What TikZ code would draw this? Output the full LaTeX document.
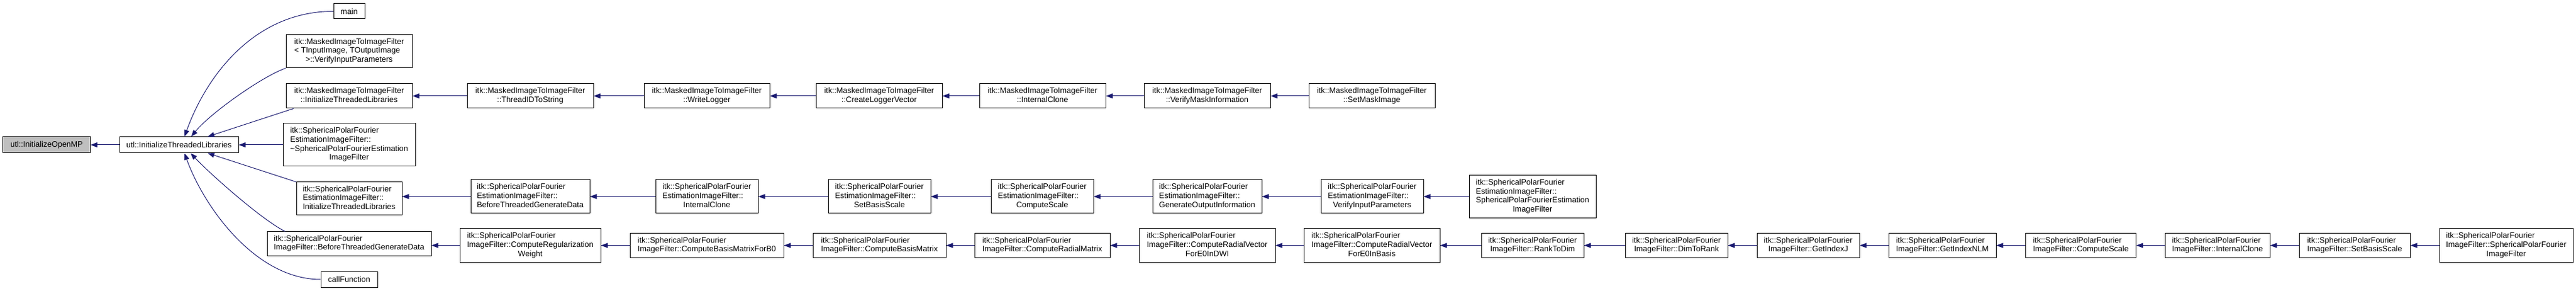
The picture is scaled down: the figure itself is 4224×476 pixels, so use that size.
\documentclass[tikz,border=0pt]{standalone}
\usepackage{fontspec}
\setmainfont{Liberation Sans}
\usetikzlibrary{arrows.meta}
\definecolor{edgeblue}{HTML}{191970}
\definecolor{hlgray}{HTML}{BFBFBF}
\newcommand\dlab[2]{\begin{tabular}{@{}l@{}}#1\\\multicolumn{1}{@{}c@{}}{#2}\end{tabular}}
\begin{document}
\begin{tikzpicture}[x=1bp,y=-1bp,
  box/.style={draw=black, line width=1bp, fill=white, inner sep=0pt, text=black,
    font=\fontsize{13}{14.7}\selectfont},
  edge/.style={draw=edgeblue, line width=1bp, -{Triangle[length=11bp,width=8bp]}}]
\fill[white] (0,0) rectangle (4224,476);
\useasboundingbox (0,0) rectangle (4224,476);
% column 0-1
\node[box, fill=hlgray, minimum width=143bp, minimum height=26bp] (omp) at (76.5,237) {utl::InitializeOpenMP};
\node[box, minimum width=195bp, minimum height=26bp] (utl) at (293.5,237) {utl::InitializeThreadedLibraries};
% column 2
\node[box, minimum width=51bp, minimum height=25bp] (main) at (572.5,18.5) {main};
\node[box, minimum width=207bp, minimum height=54bp] (mvip) at (572.5,84) {\dlab{itk::MaskedImageToImageFilter\\< TInputImage, TOutputImage}{>::VerifyInputParameters}};
\node[box, minimum width=207bp, minimum height=40bp] (mitl) at (572.5,157) {\dlab{itk::MaskedImageToImageFilter}{::InitializeThreadedLibraries}};
\node[box, minimum width=217bp, minimum height=70bp] (sdes) at (572.5,237) {\dlab{itk::SphericalPolarFourier\\EstimationImageFilter::\\\textasciitilde SphericalPolarFourierEstimation}{ImageFilter}};
\node[box, minimum width=173bp, minimum height=54bp] (seitl) at (572.5,325) {\dlab{itk::SphericalPolarFourier\\EstimationImageFilter::}{InitializeThreadedLibraries}};
\node[box, minimum width=269bp, minimum height=39bp] (sibtgd) at (572.5,398.5) {\dlab{itk::SphericalPolarFourier}{ImageFilter::BeforeThreadedGenerateData}};
\node[box, minimum width=93bp, minimum height=26bp] (callf) at (572.5,457) {callFunction};
% masked chain
\node[box, minimum width=207bp, minimum height=40bp] (tid) at (869.5,157) {\dlab{itk::MaskedImageToImageFilter}{::ThreadIDToString}};
\node[box, minimum width=206bp, minimum height=40bp] (wl) at (1159,157) {\dlab{itk::MaskedImageToImageFilter}{::WriteLogger}};
\node[box, minimum width=207bp, minimum height=40bp] (clv) at (1441.5,157) {\dlab{itk::MaskedImageToImageFilter}{::CreateLoggerVector}};
\node[box, minimum width=207bp, minimum height=40bp] (mic) at (1709.5,157) {\dlab{itk::MaskedImageToImageFilter}{::InternalClone}};
\node[box, minimum width=207bp, minimum height=40bp] (vmi) at (1979.5,157) {\dlab{itk::MaskedImageToImageFilter}{::VerifyMaskInformation}};
\node[box, minimum width=207bp, minimum height=40bp] (smi) at (2249.5,157) {\dlab{itk::MaskedImageToImageFilter}{::SetMaskImage}};
% estimation chain
\node[box, minimum width=195bp, minimum height=55bp] (ebtgd) at (869.5,321.5) {\dlab{itk::SphericalPolarFourier\\EstimationImageFilter::}{BeforeThreadedGenerateData}};
\node[box, minimum width=168bp, minimum height=55bp] (eic) at (1159,321.5) {\dlab{itk::SphericalPolarFourier\\EstimationImageFilter::}{InternalClone}};
\node[box, minimum width=168bp, minimum height=55bp] (esbs) at (1442,321.5) {\dlab{itk::SphericalPolarFourier\\EstimationImageFilter::}{SetBasisScale}};
\node[box, minimum width=168bp, minimum height=55bp] (ecs) at (1709,321.5) {\dlab{itk::SphericalPolarFourier\\EstimationImageFilter::}{ComputeScale}};
\node[box, minimum width=179bp, minimum height=55bp] (egoi) at (1979.5,321.5) {\dlab{itk::SphericalPolarFourier\\EstimationImageFilter::}{GenerateOutputInformation}};
\node[box, minimum width=168bp, minimum height=55bp] (evip) at (2250,321.5) {\dlab{itk::SphericalPolarFourier\\EstimationImageFilter::}{VerifyInputParameters}};
\node[box, minimum width=208bp, minimum height=70bp] (ector) at (2513,321.5) {\dlab{itk::SphericalPolarFourier\\EstimationImageFilter::\\SphericalPolarFourierEstimation}{ImageFilter}};
% image filter chain
\node[box, minimum width=231bp, minimum height=55bp] (crw) at (869.5,401.5) {\dlab{itk::SphericalPolarFourier\\ImageFilter::ComputeRegularization}{Weight}};
\node[box, minimum width=252bp, minimum height=40bp] (cbmb0) at (1159,401.5) {\dlab{itk::SphericalPolarFourier}{ImageFilter::ComputeBasisMatrixForB0}};
\node[box, minimum width=218bp, minimum height=40bp] (cbm) at (1442,401.5) {\dlab{itk::SphericalPolarFourier}{ImageFilter::ComputeBasisMatrix}};
\node[box, minimum width=222bp, minimum height=40bp] (crm) at (1709,401.5) {\dlab{itk::SphericalPolarFourier}{ImageFilter::ComputeRadialMatrix}};
\node[box, minimum width=223bp, minimum height=55bp] (crvdwi) at (1979.5,401.5) {\dlab{itk::SphericalPolarFourier\\ImageFilter::ComputeRadialVector}{ForE0InDWI}};
\node[box, minimum width=223bp, minimum height=55bp] (crvb) at (2249.5,401.5) {\dlab{itk::SphericalPolarFourier\\ImageFilter::ComputeRadialVector}{ForE0InBasis}};
\node[box, minimum width=168bp, minimum height=40bp] (r2d) at (2513,401.5) {\dlab{itk::SphericalPolarFourier}{ImageFilter::RankToDim}};
\node[box, minimum width=168bp, minimum height=40bp] (d2r) at (2749,401.5) {\dlab{itk::SphericalPolarFourier}{ImageFilter::DimToRank}};
\node[box, minimum width=168bp, minimum height=40bp] (gij) at (2965,401.5) {\dlab{itk::SphericalPolarFourier}{ImageFilter::GetIndexJ}};
\node[box, minimum width=176bp, minimum height=40bp] (gnlm) at (3185,401.5) {\dlab{itk::SphericalPolarFourier}{ImageFilter::GetIndexNLM}};
\node[box, minimum width=181bp, minimum height=40bp] (ics) at (3412,401.5) {\dlab{itk::SphericalPolarFourier}{ImageFilter::ComputeScale}};
\node[box, minimum width=172bp, minimum height=40bp] (iic) at (3636,401.5) {\dlab{itk::SphericalPolarFourier}{ImageFilter::InternalClone}};
\node[box, minimum width=182bp, minimum height=40bp] (isbs) at (3861,401.5) {\dlab{itk::SphericalPolarFourier}{ImageFilter::SetBasisScale}};
\node[box, minimum width=219bp, minimum height=55bp] (ictor) at (4109.5,401.5) {\dlab{itk::SphericalPolarFourier\\ImageFilter::SphericalPolarFourier}{ImageFilter}};
% edges into utl / omp
\draw[edge] (utl.west) -- (omp.east);
\draw[edge] (main.west) .. controls (420,18.5) and (340,120) .. ([xshift=107bp]utl.north west);
\draw[edge] (mvip.south west) .. controls (430,125) and (345,185) .. ([xshift=118bp]utl.north west);
\draw[edge] ([xshift=13bp]mitl.south west) -- ([xshift=145bp]utl.north west);
\draw[edge] (sdes.west) -- (utl.east);
\draw[edge] (seitl.north west) -- ([xshift=145bp]utl.south west);
\draw[edge] ([xshift=30bp]sibtgd.north west) .. controls (430,360) and (345,285) .. ([xshift=117bp]utl.south west);
\draw[edge] (callf.west) .. controls (420,457) and (335,340) .. ([xshift=107bp]utl.south west);
% horizontal chains
\foreach \a/\b in {tid/mitl, wl/tid, clv/wl, mic/clv, vmi/mic, smi/vmi,
  ebtgd/seitl, eic/ebtgd, esbs/eic, ecs/esbs, egoi/ecs, evip/egoi, ector/evip,
  crw/sibtgd, cbmb0/crw, cbm/cbmb0, crm/cbm, crvdwi/crm, crvb/crvdwi, r2d/crvb,
  d2r/r2d, gij/d2r, gnlm/gij, ics/gnlm, iic/ics, isbs/iic, ictor/isbs}
  \draw[edge] (\a.west) -- (\a.west -| \b.east);
\end{tikzpicture}
\end{document}
